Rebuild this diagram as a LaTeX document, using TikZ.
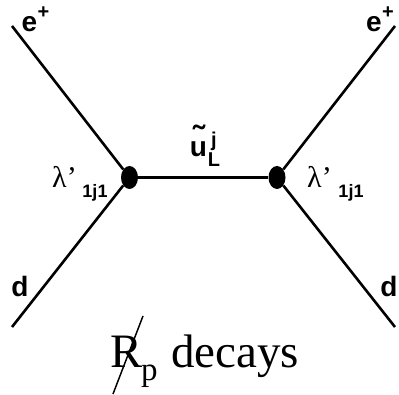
\documentclass[tikz,border=0pt]{standalone}
\usepackage{fontspec}
\setmainfont{Liberation Serif}
\newfontfamily\labelfont{Liberation Sans}
\usetikzlibrary{shapes.geometric}
\tikzset{
  vertex/.style={ellipse,fill=black,inner sep=0pt,minimum width=17pt,minimum height=23pt},
  leg/.style={line width=2.6pt},
  partlabel/.style={font=\labelfont\bfseries\fontsize{28}{28}\selectfont,inner sep=0pt,anchor=base},
  sublabel/.style={font=\labelfont\bfseries\fontsize{18}{18}\selectfont,inner sep=0pt,anchor=base},
  plabel/.style={font=\labelfont\bfseries\fontsize{20}{20}\selectfont,inner sep=0pt,anchor=base},
  couplabel/.style={font=\fontsize{30}{30}\selectfont,inner sep=0pt,anchor=base west},
  captionlabel/.style={font=\fontsize{47}{47}\selectfont,inner sep=0pt,anchor=base west}
}
\begin{document}
\begin{tikzpicture}[x=1pt,y=-1pt]
                \useasboundingbox (0,0) rectangle (399,395);
                %Vertices
                \node[vertex] (v1) at (129.5,177.5) {};
                \node[vertex] (v2) at (277,177.5) {};
                \coordinate (e1) at (12,26);
                \coordinate (e2) at (395,26);
                \coordinate (d1) at (12,327);
                \coordinate (d2) at (395,327);
                %Draw legs
                \draw[leg] (e1) -- (v1);
                \draw[leg] (d1) -- (v1);
                \draw[leg] (e2) -- (v2);
                \draw[leg] (d2) -- (v2);
                \draw[line width=3pt] (v1) -- (v2);
                %Labels
                \node[partlabel] (e1l) at (29.5,32) {e};
                \node[plabel] (e1p) at (43.5,19) {+};
                \node[partlabel] (e2l) at (374,32) {e};
                \node[plabel] (e2p) at (388,19) {+};
                \node[partlabel] (d1l) at (20,297) {d};
                \node[partlabel] (d2l) at (389,297) {d};
                \node[partlabel] (ul) at (198.5,157) {u\llap{\makebox[17pt]{\raisebox{7pt}{\fontsize{34}{34}\selectfont\char"02DC}}}};
                \node[plabel] (uj) at (214,147) {j};
                \node[plabel] (uL) at (214,167) {L};
                \node[couplabel] (lam1) at (52,188) {λ'};
                \node[sublabel] (lam1s) at (95,198) {1j1};
                \node[couplabel] (lam2) at (307,188) {λ'};
                \node[sublabel] (lam2s) at (351,198) {1j1};
                %Caption
                \node[font=\fontsize{48}{48}\selectfont,inner sep=0pt,anchor=base west] (rp) at (110,367) {R};
                \node[font=\fontsize{33}{33}\selectfont,inner sep=0pt,anchor=base west] (rps) at (141,380) {p};
                \node[captionlabel] (dec) at (171,367) {decays};
                \coordinate (s1) at (143,316);
                \coordinate (s2) at (113,394);
                \draw[line width=1.5pt] (s1) -- (s2);
            \end{tikzpicture}
\end{document}
